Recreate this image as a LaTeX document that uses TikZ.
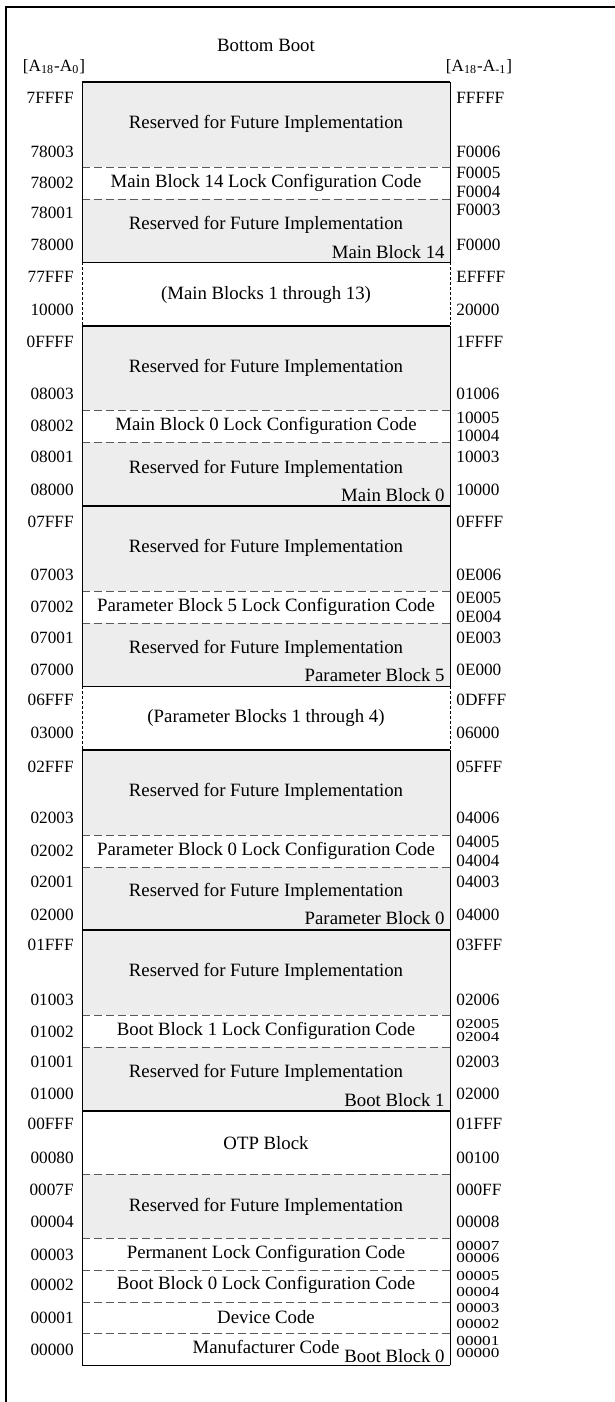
\documentclass[tikz,border=0pt]{standalone}
\usepackage{fontspec}
\setmainfont{Liberation Serif}
\usetikzlibrary{positioning}
\newcommand{\squash}[1]{\scalebox{1}[0.8]{#1}}

\begin{document}
\begin{tikzpicture}[x=0.5pt, y=-0.5pt,
addr/.style={font=\fontsize{8.6}{9}\selectfont, inner sep=0pt},
laddr/.style={addr, anchor=east},
raddr/.style={addr, anchor=west},
txt/.style={font=\fontsize{9.4}{10}\selectfont, inner sep=0pt},
bname/.style={txt, anchor=east},
rsv/.style={fill=black!7},
sep/.style={draw=black!65, dash pattern=on 4pt off 2pt, line width=0.45pt},
side/.style={dash pattern=on 1.5pt off 1pt, line width=0.4pt},
bound/.style={line width=0.9pt},
thin/.style={line width=0.5pt}]

\useasboundingbox (0,0) rectangle (615,1402);
\draw[line width=0.6pt] (615,7) -- (6,7) -- (6,1402);

\fill[rsv] (82,82)   rectangle (450,167);
\fill[rsv] (82,199)  rectangle (450,262);
\fill[rsv] (82,326)  rectangle (450,410);
\fill[rsv] (82,442)  rectangle (450,506);
\fill[rsv] (82,506)  rectangle (450,591);
\fill[rsv] (82,623)  rectangle (450,686);
\fill[rsv] (82,750)  rectangle (450,835);
\fill[rsv] (82,867)  rectangle (450,930);
\fill[rsv] (82,930)  rectangle (450,1015);
\fill[rsv] (82,1047) rectangle (450,1111);
\fill[rsv] (82,1174) rectangle (450,1238);

\draw[sep] (82,167) -- (450,167);
\draw[sep] (82,199) -- (450,199);
\draw[sep] (82,410) -- (450,410);
\draw[sep] (82,442) -- (450,442);
\draw[sep] (82,591) -- (450,591);
\draw[sep] (82,623) -- (450,623);
\draw[sep] (82,835) -- (450,835);
\draw[sep] (82,867) -- (450,867);
\draw[sep] (82,1015) -- (450,1015);
\draw[sep] (82,1047) -- (450,1047);
\draw[sep] (82,1174) -- (450,1174);
\draw[sep] (82,1238) -- (450,1238);
\draw[sep] (82,1270) -- (450,1270);
\draw[sep] (82,1302) -- (450,1302);
\draw[sep] (82,1333) -- (450,1333);

\draw[thin] (82,82) -- (82,262);
\draw[thin] (450,82) -- (450,262);
\draw[side] (82,262) -- (82,326);
\draw[side] (450,262) -- (450,326);
\draw[thin] (82,326) -- (82,686);
\draw[thin] (450,326) -- (450,686);
\draw[side] (82,686) -- (82,750);
\draw[side] (450,686) -- (450,750);
\draw[thin] (82,750) -- (82,1365);
\draw[thin] (450,750) -- (450,1365);

\draw[bound] (82,82) -- (450,82);
\draw[thin] (82,262) -- (450,262);
\draw[bound] (82,326) -- (450,326);
\draw[bound] (82,506) -- (450,506);
\draw[thin] (82,686) -- (450,686);
\draw[bound] (82,750) -- (450,750);
\draw[bound] (82,930) -- (450,930);
\draw[bound] (82,1111) -- (450,1111);
\draw[thin] (82,1365) -- (450,1365);

\node[txt] (title) at (266,45) {Bottom Boot};
\node[addr] (lhead) at (54,67) {[A\textsubscript{18}-A\textsubscript{0}]};
\node[addr] (rhead) at (479,67) {[A\textsubscript{18}-A\textsubscript{-1}]};

\node[txt] (rsvA14) at (266,124) {Reserved for Future Implementation};
\node[txt] (lock14) at (266,183) {Main Block 14 Lock Configuration Code};
\node[txt] (rsvB14) at (266,225) {Reserved for Future Implementation};
\node[bname] (name14) at (445,252) {Main Block 14};
\node[txt] (mid1to13) at (266,295) {(Main Blocks 1 through 13)};
\node[txt] (rsvA0) at (266,368) {Reserved for Future Implementation};
\node[txt] (lock0) at (266,426) {Main Block 0 Lock Configuration Code};
\node[txt] (rsvB0) at (266,469) {Reserved for Future Implementation};
\node[bname] (name0) at (445,495) {Main Block 0};
\node[txt] (rsvAp5) at (266,548) {Reserved for Future Implementation};
\node[txt] (lockp5) at (266,607) {Parameter Block 5 Lock Configuration Code};
\node[txt] (rsvBp5) at (266,649) {Reserved for Future Implementation};
\node[bname] (namep5) at (445,675) {Parameter Block 5};
\node[txt] (mid1to4) at (266,718) {(Parameter Blocks 1 through 4)};
\node[txt] (rsvAp0) at (266,792) {Reserved for Future Implementation};
\node[txt] (lockp0) at (266,851) {Parameter Block 0 Lock Configuration Code};
\node[txt] (rsvBp0) at (266,892) {Reserved for Future Implementation};
\node[bname] (namep0) at (445,918) {Parameter Block 0};
\node[txt] (rsvAb1) at (266,972) {Reserved for Future Implementation};
\node[txt] (lockb1) at (266,1031) {Boot Block 1 Lock Configuration Code};
\node[txt] (rsvBb1) at (266,1073) {Reserved for Future Implementation};
\node[bname] (nameb1) at (445,1100) {Boot Block 1};
\node[txt] (otp) at (266,1143) {OTP Block};
\node[txt] (rsvb0) at (266,1207) {Reserved for Future Implementation};
\node[txt] (permlock) at (266,1254) {Permanent Lock Configuration Code};
\node[txt] (lockb0) at (266,1285) {Boot Block 0 Lock Configuration Code};
\node[txt] (devcode) at (266,1317) {Device Code};
\node[txt] (mfrcode) at (266,1347) {Manufacturer Code};
\node[bname] (nameb0) at (445,1356) {Boot Block 0};

\node[laddr] (l7FFFF) at (74,98)   {7FFFF};
\node[laddr] (l78003) at (74,152)  {78003};
\node[laddr] (l78002) at (74,183)  {78002};
\node[laddr] (l78001) at (74,213)  {78001};
\node[laddr] (l78000) at (74,245)  {78000};
\node[laddr] (l77FFF) at (74,277)  {77FFF};
\node[laddr] (l10000) at (74,310)  {10000};
\node[laddr] (l0FFFF) at (74,342)  {0FFFF};
\node[laddr] (l08003) at (74,394)  {08003};
\node[laddr] (l08002) at (74,426)  {08002};
\node[laddr] (l08001) at (74,457)  {08001};
\node[laddr] (l08000) at (74,490)  {08000};
\node[laddr] (l07FFF) at (74,522)  {07FFF};
\node[laddr] (l07003) at (74,575)  {07003};
\node[laddr] (l07002) at (74,607)  {07002};
\node[laddr] (l07001) at (74,638)  {07001};
\node[laddr] (l07000) at (74,670)  {07000};
\node[laddr] (l06FFF) at (74,700)  {06FFF};
\node[laddr] (l03000) at (74,733)  {03000};
\node[laddr] (l02FFF) at (74,767)  {02FFF};
\node[laddr] (l02003) at (74,818)  {02003};
\node[laddr] (l02002) at (74,851)  {02002};
\node[laddr] (l02001) at (74,882)  {02001};
\node[laddr] (l02000) at (74,915)  {02000};
\node[laddr] (l01FFF) at (74,945)  {01FFF};
\node[laddr] (l01003) at (74,1000) {01003};
\node[laddr] (l01002) at (74,1032) {01002};
\node[laddr] (l01001) at (74,1062) {01001};
\node[laddr] (l01000) at (74,1094) {01000};
\node[laddr] (l00FFF) at (74,1124) {00FFF};
\node[laddr] (l00080) at (74,1158) {00080};
\node[laddr] (l0007F) at (74,1190) {0007F};
\node[laddr] (l00004) at (74,1222) {00004};
\node[laddr] (l00003) at (74,1255) {00003};
\node[laddr] (l00002) at (74,1285) {00002};
\node[laddr] (l00001) at (74,1318) {00001};
\node[laddr] (l00000) at (74,1350) {00000};

\node[raddr] (rFFFFF) at (456,98)   {FFFFF};
\node[raddr] (rF0006) at (456,152)  {F0006};
\node[raddr] (rF0005) at (456,173)  {F0005};
\node[raddr] (rF0004) at (456,192)  {F0004};
\node[raddr] (rF0003) at (456,210)  {F0003};
\node[raddr] (rF0000) at (456,245)  {F0000};
\node[raddr] (rEFFFF) at (456,277)  {EFFFF};
\node[raddr] (r20000) at (456,310)  {20000};
\node[raddr] (r1FFFF) at (456,342)  {1FFFF};
\node[raddr] (r01006) at (456,394)  {01006};
\node[raddr] (r10005) at (456,418)  {10005};
\node[raddr] (r10004) at (456,436)  {10004};
\node[raddr] (r10003) at (456,457)  {10003};
\node[raddr] (r10000) at (456,490)  {10000};
\node[raddr] (r0FFFF) at (456,522)  {0FFFF};
\node[raddr] (r0E006) at (456,575)  {0E006};
\node[raddr] (r0E005) at (456,598)  {0E005};
\node[raddr] (r0E004) at (456,617)  {0E004};
\node[raddr] (r0E003) at (456,638)  {0E003};
\node[raddr] (r0E000) at (456,670)  {0E000};
\node[raddr] (r0DFFF) at (456,700)  {0DFFF};
\node[raddr] (r06000) at (456,733)  {06000};
\node[raddr] (r05FFF) at (456,767)  {05FFF};
\node[raddr] (r04006) at (456,818)  {04006};
\node[raddr] (r04005) at (456,842)  {04005};
\node[raddr] (r04004) at (456,861)  {04004};
\node[raddr] (r04003) at (456,882)  {04003};
\node[raddr] (r04000) at (456,915)  {04000};
\node[raddr] (r03FFF) at (456,945)  {03FFF};
\node[raddr] (r02006) at (456,1000) {02006};
\node[raddr] (r02005) at (456,1024) {\squash{02005}};
\node[raddr] (r02004) at (456,1037) {\squash{02004}};
\node[raddr] (r02003) at (456,1062) {02003};
\node[raddr] (r02000) at (456,1094) {02000};
\node[raddr] (r01FFF) at (456,1124) {01FFF};
\node[raddr] (r00100) at (456,1158) {00100};
\node[raddr] (r000FF) at (456,1190) {000FF};
\node[raddr] (r00008) at (456,1222) {00008};
\node[raddr] (r00007) at (456,1246) {\squash{00007}};
\node[raddr] (r00006) at (456,1258) {\squash{00006}};
\node[raddr] (r00005) at (456,1276) {\squash{00005}};
\node[raddr] (r00004) at (456,1292) {\squash{00004}};
\node[raddr] (r00003) at (456,1308) {\squash{00003}};
\node[raddr] (r00002) at (456,1324) {\squash{00002}};
\node[raddr] (r00001) at (456,1341) {\squash{00001}};
\node[raddr] (r00000) at (456,1353) {\squash{00000}};

\end{tikzpicture}
\end{document}
